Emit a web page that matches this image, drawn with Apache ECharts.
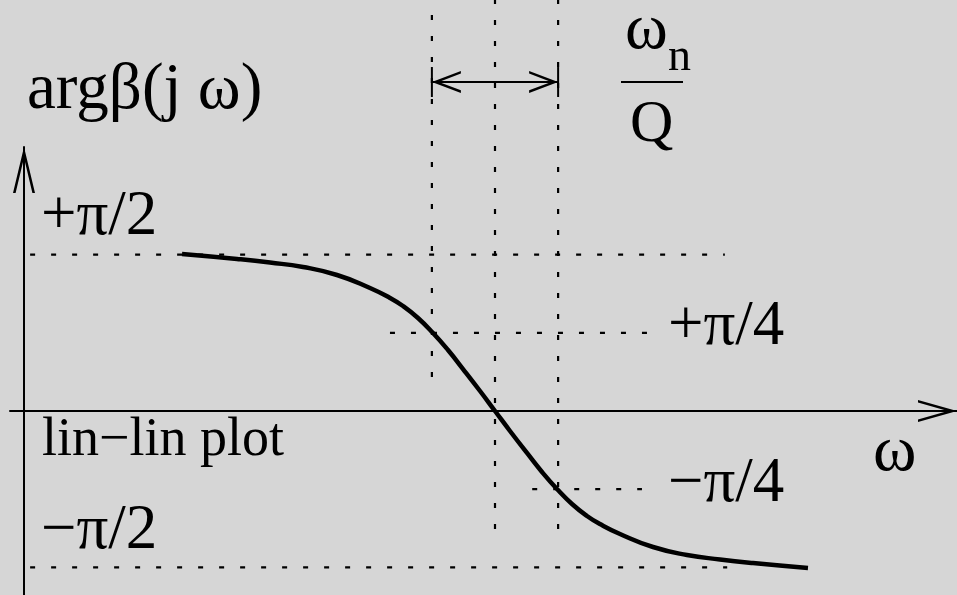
<!DOCTYPE html>
<html>
<head>
<meta charset="utf-8">
<script src="https://cdn.jsdelivr.net/npm/echarts@6/dist/echarts.min.js"></script>
<style>
  html, body { margin: 0; padding: 0; background: #d6d6d6; }
  #chart { width: 957px; height: 595px; }
</style>
</head>
<body>
<div id="chart"></div>
<script>
// Phase of a second-order band-pass response, lin-lin axes.
// Frequency is normalised to the natural frequency (ωn = 1), phase in radians.
const omega = [0.3355, 0.4522, 0.5223, 0.5924, 0.6645, 0.7346, 0.7771, 0.8047, 0.8365, 0.8684,
               0.9002, 0.9321, 0.9682, 1.0000, 1.0318, 1.0679, 1.0998, 1.1316, 1.1635, 1.1953,
               1.2229, 1.2654, 1.3355, 1.4076, 1.4777, 1.5478, 1.6645];
const phase = [1.578, 1.528, 1.492, 1.447, 1.367, 1.236, 1.136, 1.055, 0.935, 0.784,
               0.613, 0.422, 0.201, 0.000, -0.201, -0.422, -0.613, -0.784, -0.935, -1.055,
               -1.136, -1.236, -1.367, -1.447, -1.492, -1.528, -1.578];

// Horizontal guide levels and the ω span each guide covers
const levels = [Math.PI / 2, Math.PI / 4, -Math.PI / 4, -Math.PI / 2];
const levelFrom = [0.013, 0.777, 1.079, 0.013];
const levelTo = [1.488, 1.323, 1.312, 1.493];

// Vertical guides: the two ±π/4 frequencies and ωn, with their phase spans
const markers = [0.866, 1.000, 1.134];
const markerTop = [3.98, 4.14, 4.14];
const markerBottom = [0.33, -1.20, -1.20];

// Bandwidth ωn/Q shown as a double arrow between the ±π/4 frequencies
const bandEdges = [0.866, 1.134];
const bandLevel = 3.307;
const bandBar = [3.156, 3.457];

// Axis ranges (ω, phase)
const xRange = [-0.029724, 1.980892];
const yRange = [-1.849246, 4.130653];
const yAxisTop = 2.653266;

const INK = '#000';
const FONT = '"Liberation Serif", "Times New Roman", serif';

// Open chevron heads, drawn as thin filled outlines
const upHeadAxisY = 'path://M11,0 L22,46 L19.4,46 L11,10.8 L2.6,46 L0,46 Z';
const upHeadAxisX = 'path://M11,0 L22,39 L19.4,39 L11,9.2 L2.6,39 L0,39 Z';
const leftHead = 'path://M0,11 L29,0 L29,2.6 L6.9,11 L29,19.4 L29,22 Z';
const rightHead = 'path://M29,11 L0,0 L0,2.6 L22.1,11 L0,19.4 L0,22 Z';

const chart = echarts.init(document.getElementById('chart'), null, { renderer: 'canvas' });

const hiddenAxisParts = {
  axisTick: { show: false },
  axisLabel: { show: false },
  splitLine: { show: false }
};

const dotted = { color: INK, width: 2.2, type: [5, 16] };

const series = [];

// horizontal dotted guides
levels.forEach((v, i) => {
  series.push({
    type: 'line', xAxisIndex: 0, yAxisIndex: 0,
    data: [[levelFrom[i], v], [levelTo[i], v]],
    symbol: 'none', silent: true, clip: false, z: 1,
    lineStyle: dotted
  });
});

// vertical dotted guides
markers.forEach((w, i) => {
  series.push({
    type: 'line', xAxisIndex: 0, yAxisIndex: 0,
    data: [[w, markerTop[i]], [w, markerBottom[i]]],
    symbol: 'none', silent: true, clip: false, z: 1,
    lineStyle: dotted
  });
});

// bandwidth double arrow
series.push({
  type: 'line', xAxisIndex: 0, yAxisIndex: 0,
  data: [
    { value: [bandEdges[0], bandLevel], symbol: leftHead, symbolSize: [29, 22], symbolOffset: [14.5, 0] },
    { value: [bandEdges[1], bandLevel], symbol: rightHead, symbolSize: [29, 22], symbolOffset: [-14.5, 0] }
  ],
  showSymbol: true, silent: true, clip: false, z: 3,
  itemStyle: { color: INK },
  lineStyle: { color: INK, width: 2 }
});
bandEdges.forEach((w) => {
  series.push({
    type: 'line', xAxisIndex: 0, yAxisIndex: 0,
    data: [[w, bandBar[0]], [w, bandBar[1]]],
    symbol: 'none', silent: true, clip: false, z: 3,
    lineStyle: { color: INK, width: 2 }
  });
});

// phase curve
series.push({
  type: 'line', xAxisIndex: 0, yAxisIndex: 0,
  data: omega.map((w, i) => [w, phase[i]]),
  smooth: 0.5, symbol: 'none', silent: true, clip: false, z: 5,
  lineStyle: { color: INK, width: 4.5, cap: 'butt' }
});

function label(text, x, baseline, size) {
  return {
    type: 'text', x: x, y: baseline - 0.3375 * size, z: 20, silent: true,
    style: { text: text, font: size + 'px ' + FONT, fill: INK, align: 'left', verticalAlign: 'middle' }
  };
}

chart.setOption({
  backgroundColor: '#d6d6d6',
  animation: false,
  grid: [
    { left: 10, right: 0, top: 0, bottom: 0 },
    { left: 10, right: 0, top: 147, bottom: 0 }
  ],
  xAxis: [
    {
      type: 'value', gridIndex: 0, min: xRange[0], max: xRange[1],
      axisLine: {
        show: true, onZero: true,
        symbol: ['none', upHeadAxisX], symbolSize: [22, 39], symbolOffset: [0, -19.5],
        lineStyle: { color: INK, width: 2 }
      },
      ...hiddenAxisParts
    },
    {
      type: 'value', gridIndex: 1, min: xRange[0], max: xRange[1], show: false,
      axisLine: { onZero: false }
    }
  ],
  yAxis: [
    {
      type: 'value', gridIndex: 0, min: yRange[0], max: yRange[1],
      axisLine: { show: false, onZero: false },
      ...hiddenAxisParts
    },
    {
      type: 'value', gridIndex: 1, min: yRange[0], max: yAxisTop,
      axisLine: {
        show: true, onZero: true,
        symbol: ['none', upHeadAxisY], symbolSize: [22, 46], symbolOffset: [0, -23],
        lineStyle: { color: INK, width: 2 }
      },
      ...hiddenAxisParts
    }
  ],
  series: series,
  graphic: [
    label('argβ(j ω)', 27, 113, 65),
    label('+π/2', 41, 239, 63),
    label('+π/4', 668, 349, 63),
    label('\u2212π/4', 668, 506, 63),
    label('\u2212π/2', 41, 553, 63),
    label('lin\u2212lin plot', 42, 459, 54),
    label('ω', 873, 475, 66),
    label('ω', 625, 53, 65),
    label('n', 668, 73, 46),
    label('Q', 630, 145, 60),
    {
      type: 'line', z: 20, silent: true,
      shape: { x1: 621, y1: 82, x2: 683, y2: 82 },
      style: { stroke: INK, lineWidth: 2 }
    }
  ]
});
</script>
</body>
</html>
